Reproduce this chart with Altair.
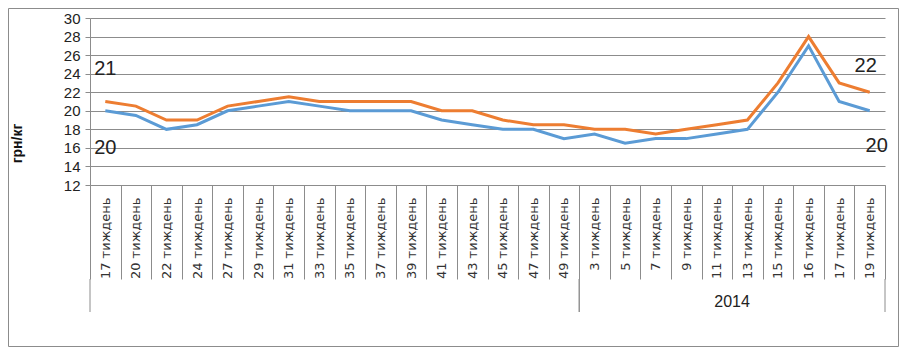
import altair as alt
import pandas as pd

# ---- data ----
week_labels = ["17 тиждень", "20 тиждень", "22 тиждень", "24 тиждень", "27 тиждень",
               "29 тиждень", "31 тиждень", "33 тиждень", "35 тиждень", "37 тиждень",
               "39 тиждень", "41 тиждень", "43 тиждень", "45 тиждень", "47 тиждень",
               "49 тиждень", "3 тиждень", "5 тиждень", "7 тиждень", "9 тиждень",
               "11 тиждень", "13 тиждень", "15 тиждень", "16 тиждень", "17 тиждень",
               "19 тиждень"]
upper_values = [21, 20.5, 19, 19, 20.5, 21, 21.5, 21, 21, 21, 21, 20, 20, 19, 18.5,
                18.5, 18, 18, 17.5, 18, 18.5, 19, 23, 28, 23, 22]
lower_values = [20, 19.5, 18, 18.5, 20, 20.5, 21, 20.5, 20, 20, 20, 19, 18.5, 18, 18,
                17, 17.5, 16.5, 17, 17, 17.5, 18, 22, 27, 21, 20]
series_names = ["max", "min"]
series_colors = ["#ED7D31", "#5B9BD5"]
group_labels = ["", "2014"]
group_start = [0, 16]
group_end = [15, 25]
y_ticks = [12, 14, 16, 18, 20, 22, 24, 26, 28, 30]
y_title = "грн/кг"

FONT = "Liberation Sans"
XFONT = "DejaVu Sans"
GRAY = "#8c8c8c"
W, H = 795, 167

positions = list(range(len(week_labels)))
rows = []
for name, vals in zip(series_names, [upper_values, lower_values]):
    for p, v in zip(positions, vals):
        rows.append({"pos": p, "value": v, "series": name})
df = pd.DataFrame(rows)

last = positions[-1]
lab_df = pd.DataFrame([
    {"pos": 0, "value": upper_values[0], "series": "max", "end": "start"},
    {"pos": 0, "value": lower_values[0], "series": "min", "end": "start"},
    {"pos": last, "value": upper_values[-1], "series": "max", "end": "end"},
    {"pos": last, "value": lower_values[-1], "series": "min", "end": "end"},
])

grp_df = pd.DataFrame({"label": group_labels, "start": group_start, "end": group_end})
grp_df["mid"] = (grp_df["start"] + grp_df["end"]) // 2

label_expr = "[" + ",".join("'" + w + "'" for w in week_labels) + "][datum.value]"

xscale = alt.Scale(type="band", domain=positions, paddingInner=0, paddingOuter=0)
yscale = alt.Scale(domain=[12, 30], nice=False, zero=False)

xaxis = alt.Axis(labelExpr=label_expr, labelAngle=-90, tickBand="extent",
                 tickSize=94, tickColor=GRAY, domainColor=GRAY,
                 labelPadding=-82, labelFont=XFONT, labelFontSize=13,
                 labelColor="#333", labelAlign="right", labelBaseline="middle",
                 grid=False, labelOverlap=False, title=None)
yaxis = alt.Axis(values=y_ticks, grid=True, gridColor=GRAY, gridWidth=1,
                 tickColor=GRAY, tickSize=5, domainColor=GRAY, labelOverlap=False,
                 labelFont=FONT, labelFontSize=15, labelColor="#222",
                 labelPadding=5, titleFont=FONT, titleFontSize=14,
                 titleFontWeight="bold", titleColor="#111", title=y_title,
                 titleX=-73, titleY=125, titleAlign="center",
                 titleBaseline="middle", titleAngle=270)

lines = alt.Chart(df).mark_line(strokeWidth=3).encode(
    x=alt.X("pos:O", scale=xscale, bandPosition=0.5, axis=xaxis),
    y=alt.Y("value:Q", scale=yscale, axis=yaxis),
    color=alt.Color("series:N", scale=alt.Scale(domain=series_names, range=series_colors),
                    legend=None),
    order=alt.Order("pos:O"),
)

def value_label(series, end, dx, dy):
    return alt.Chart(lab_df).transform_filter(
        (alt.datum.series == series) & (alt.datum.end == end)
    ).mark_text(font=FONT, fontSize=20, color="#222", dx=dx, dy=dy,
                baseline="middle", align="center").encode(
        x=alt.X("pos:O", scale=xscale, bandPosition=0.5, axis=xaxis),
        y=alt.Y("value:Q", scale=yscale, axis=yaxis),
        text=alt.Text("value:Q"),
    )

labels = [
    value_label("max", "start", 0, -33),
    value_label("min", "start", 0, 37),
    value_label("max", "end", -4, -26),
    value_label("min", "end", 7, 35),
]

grp_start_rules = alt.Chart(grp_df).mark_rule(color=GRAY, strokeWidth=1).encode(
    x=alt.X("start:O", scale=xscale, bandPosition=0, axis=xaxis),
    y=alt.value(H + 94), y2=alt.value(H + 127),
)
grp_end_rules = alt.Chart(grp_df).mark_rule(color=GRAY, strokeWidth=1).encode(
    x=alt.X("end:O", scale=xscale, bandPosition=1, axis=xaxis),
    y=alt.value(H + 94), y2=alt.value(H + 127),
)
grp_text = alt.Chart(grp_df).mark_text(font=FONT, fontSize=16, color="#222",
                                       baseline="middle", align="center").encode(
    x=alt.X("mid:O", scale=xscale, bandPosition=1, axis=xaxis),
    y=alt.value(H + 117),
    text="label:N",
)

border = alt.Chart(pd.DataFrame({"b": [0]})).mark_rect(
    filled=False, stroke=GRAY, strokeWidth=1
).encode(
    x=alt.value(-81.5), x2=alt.value(W + 13.5),
    y=alt.value(-9.5), y2=alt.value(H + 161.5),
)

chart = alt.layer(lines, *labels, grp_start_rules, grp_end_rules, grp_text, border).properties(
    width=W, height=H,
    padding={"left": 82, "top": 10, "right": 14, "bottom": 162},
    autosize=alt.AutoSizeParams(type="none"),
).configure_view(stroke=None)

chart.save("out.html", embed_options={"renderer": "svg", "actions": False})
